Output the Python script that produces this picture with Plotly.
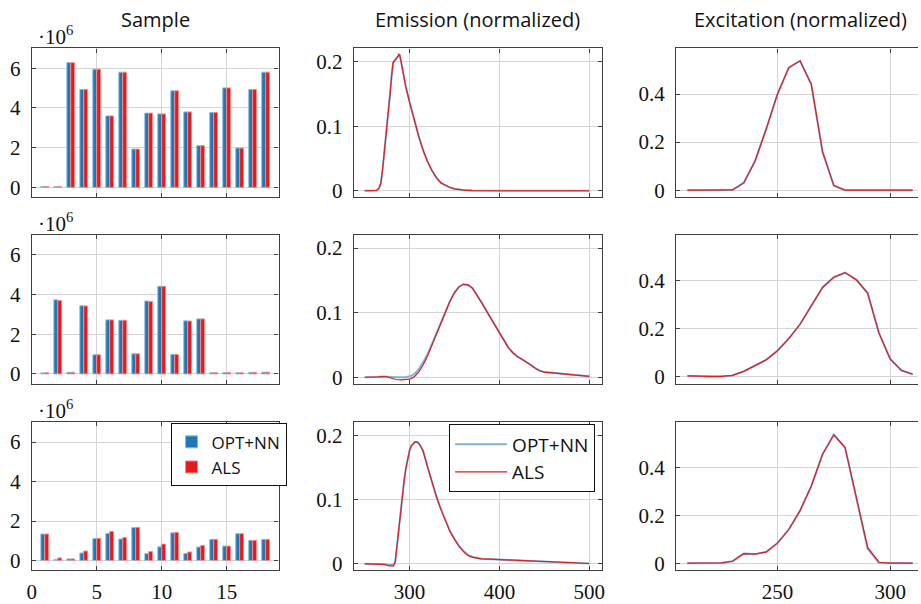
import plotly.graph_objects as go

# ---------------- data ----------------
samples = list(range(1, 19))

# sample scores (component 1..3), two decomposition methods
opt_nn_c1 = [0.05, 0.05, 6.28, 4.93, 5.95, 3.60, 5.80, 1.93, 3.74, 3.70, 4.86, 3.80, 2.10, 3.77, 5.01, 1.98, 4.93, 5.80]
als_c1    = [0.05, 0.05, 6.28, 4.93, 5.95, 3.60, 5.80, 1.93, 3.74, 3.70, 4.86, 3.80, 2.10, 3.77, 5.01, 1.98, 4.93, 5.80]
opt_nn_c2 = [0.05, 3.73, 0.08, 3.43, 0.96, 2.72, 2.70, 1.01, 3.67, 4.41, 0.98, 2.67, 2.77, 0.06, 0.07, 0.06, 0.08, 0.09]
als_c2    = [0.06, 3.70, 0.08, 3.42, 0.96, 2.72, 2.70, 1.01, 3.65, 4.41, 0.98, 2.66, 2.77, 0.06, 0.07, 0.06, 0.08, 0.09]
opt_nn_c3 = [1.34, 0.05, 0.08, 0.38, 1.11, 1.37, 1.09, 1.67, 0.35, 0.69, 1.40, 0.35, 0.68, 1.07, 0.73, 1.36, 1.02, 1.07]
als_c3    = [1.34, 0.13, 0.08, 0.48, 1.12, 1.47, 1.16, 1.68, 0.45, 0.83, 1.42, 0.43, 0.76, 1.07, 0.73, 1.36, 1.02, 1.07]
SCALE = 1e6

# emission spectra (normalized)
em1_wl = [250, 255, 260, 263, 266, 268, 270, 272, 274, 276, 278, 280, 281.5, 283, 285, 287, 288, 289,
          290.5, 293, 295.6, 300, 305, 310, 315, 320, 325, 330, 335, 340, 345, 350, 360, 370, 380, 400, 450, 500]
em1_opt = [0, 0, 0, 0.0005, 0.004, 0.012, 0.034, 0.060, 0.085, 0.115, 0.147, 0.178, 0.198, 0.201, 0.204, 0.208,
           0.211, 0.210, 0.200, 0.182, 0.162, 0.137, 0.110, 0.085, 0.063, 0.045, 0.031, 0.020, 0.012, 0.008,
           0.005, 0.003, 0.001, 0.0003, 0, 0, 0, 0]
em1_als = list(em1_opt)

em2_wl = [250, 260, 265, 270, 275, 280, 285, 290, 295, 300, 303, 306, 310, 315, 320, 325, 330, 335, 340,
          345, 350, 355, 360, 365, 370, 375, 380, 385, 390, 395, 400, 405, 410, 415, 420, 425, 430, 435,
          440, 445, 450, 460, 470, 480, 490, 500]
em2_als = [0, 0, 0.0005, 0.0012, 0.0005, -0.0015, -0.0035, -0.004, -0.004, -0.003, -0.001, 0.002, 0.008,
           0.019, 0.033, 0.050, 0.068, 0.085, 0.102, 0.118, 0.131, 0.140, 0.144, 0.143, 0.138, 0.128, 0.116,
           0.104, 0.092, 0.080, 0.068, 0.057, 0.046, 0.038, 0.032, 0.028, 0.024, 0.019, 0.014, 0.010, 0.008,
           0.0065, 0.005, 0.0035, 0.0025, 0.0015]
em2_opt = [0, 0, 0.0005, 0.0012, 0.0005, 0.0003, 0, 0, 0, 0.0015, 0.003, 0.006, 0.012, 0.023, 0.036, 0.052,
           0.068, 0.085, 0.102, 0.118, 0.131, 0.140, 0.144, 0.143, 0.138, 0.128, 0.116, 0.104, 0.092, 0.080,
           0.068, 0.057, 0.046, 0.038, 0.032, 0.028, 0.024, 0.019, 0.014, 0.010, 0.008, 0.0065, 0.005, 0.0035,
           0.0025, 0.0015]

em3_wl = [250, 260, 268, 272, 276, 279, 282, 284, 286, 288, 290, 292, 294, 296, 298, 300, 302, 304, 306,
          308, 310, 312, 315, 320, 325, 330, 335, 340, 345, 350, 355, 360, 365, 370, 375, 380, 390, 400,
          410, 420, 430, 440, 450, 460, 470, 480, 490, 500]
em3_als = [0, 0, 0, -0.001, -0.003, -0.0035, -0.0035, 0.003, 0.030, 0.058, 0.085, 0.110, 0.131, 0.150,
           0.166, 0.177, 0.184, 0.188, 0.190, 0.190, 0.188, 0.184, 0.176, 0.151, 0.126, 0.104, 0.084, 0.066,
           0.050, 0.038, 0.027, 0.019, 0.013, 0.010, 0.0085, 0.0078, 0.0072, 0.0066, 0.006, 0.0055, 0.0048,
           0.004, 0.003, 0.0022, 0.0016, 0.0012, 0.0008, 0.0005]
em3_opt = [0, 0, 0, -0.0008, -0.002, -0.002, -0.002, 0.003, 0.030, 0.058, 0.085, 0.110, 0.131, 0.150,
           0.166, 0.177, 0.184, 0.188, 0.190, 0.190, 0.188, 0.184, 0.176, 0.151, 0.126, 0.104, 0.085, 0.067,
           0.051, 0.039, 0.028, 0.020, 0.014, 0.011, 0.009, 0.008, 0.0072, 0.0066, 0.006, 0.0055, 0.0048,
           0.004, 0.003, 0.0022, 0.0016, 0.0012, 0.0008, 0.0005]

# excitation spectra (normalized)
ex_wl = [210, 215, 220, 225, 230, 235, 240, 245, 250, 255, 260, 265, 270, 275, 280, 285, 290, 295, 300, 305, 310]
ex1_opt = [0, 0, 0, 0, 0.001, 0.030, 0.120, 0.255, 0.400, 0.510, 0.538, 0.440, 0.159, 0.019, 0, 0, 0, 0, 0, 0, 0]
ex1_als = list(ex1_opt)
ex2_opt = [0.003, 0.001, 0.001, 0.001, 0.005, 0.022, 0.045, 0.070, 0.108, 0.158, 0.218, 0.293, 0.371, 0.414,
           0.433, 0.403, 0.348, 0.182, 0.074, 0.026, 0.010]
ex2_als = list(ex2_opt)
ex3_opt = [0, 0, 0, 0.001, 0.008, 0.040, 0.038, 0.047, 0.084, 0.141, 0.220, 0.323, 0.456, 0.538, 0.484,
           0.270, 0.060, 0.002, 0, 0, 0]
ex3_als = [0, 0, 0, 0.001, 0.008, 0.040, 0.038, 0.047, 0.084, 0.141, 0.220, 0.323, 0.456, 0.538, 0.484,
           0.275, 0.066, 0.004, 0, 0, 0]

col_titles = ["Sample", "Emission (normalized)", "Excitation (normalized)"]

# ---------------- styling ----------------
W, H = 921, 604
BLUE = "#1f77b4"
BLUE_EDGE = "#8fbbda"
RED = "#e41a1c"
RED_EDGE = "#f28c8d"
BLUE_LINE = "#7fb2d8"
FRAME = "#3f3f3f"
GRID = "#d4d4d4"
SERIF = "Liberation Serif"
SANS = "Open Sans"

col_px = [(27, 276), (352, 602), (677, 921)]
row_px = [(49, 200), (238, 389), (428, 578)]


def xdom(c):
    return [col_px[c][0] / W, col_px[c][1] / W]


def ydom(r):
    return [1 - row_px[r][1] / H, 1 - row_px[r][0] / H]


fig = go.Figure()

bars = [(opt_nn_c1, als_c1), (opt_nn_c2, als_c2), (opt_nn_c3, als_c3)]
emis = [(em1_wl, em1_opt, em1_als), (em2_wl, em2_opt, em2_als), (em3_wl, em3_opt, em3_als)]
excs = [(ex1_opt, ex1_als), (ex2_opt, ex2_als), (ex3_opt, ex3_als)]

axis_font = dict(family=SERIF, size=21, color="#111")

for r in range(3):
    last = r == 2
    # axis ids: left, middle, right column of this row
    ids = [3 * r + 1, 3 * r + 2, 3 * r + 3]
    names = ["" if i == 1 else str(i) for i in ids]

    # --- bar chart of scores ---
    o, a = bars[r]
    fig.add_trace(go.Bar(x=samples, y=[v * SCALE for v in o], name="OPT+NN",
                         marker=dict(color=BLUE, line=dict(color=BLUE_EDGE, width=1)),
                         xaxis="x" + names[0], yaxis="y" + names[0],
                         showlegend=last, legend="legend", offsetgroup="a"))
    fig.add_trace(go.Bar(x=samples, y=[v * SCALE for v in a], name="ALS",
                         marker=dict(color=RED, line=dict(color=RED_EDGE, width=1)),
                         xaxis="x" + names[0], yaxis="y" + names[0],
                         showlegend=last, legend="legend", offsetgroup="b"))

    # --- emission ---
    wl, o, a = emis[r]
    fig.add_trace(go.Scatter(x=wl, y=o, mode="lines", name="OPT+NN",
                             line=dict(color=BLUE_LINE, width=2),
                             xaxis="x" + names[1], yaxis="y" + names[1],
                             showlegend=last, legend="legend2"))
    fig.add_trace(go.Scatter(x=wl, y=a, mode="lines", name="ALS",
                             line=dict(color=RED, width=1.2),
                             xaxis="x" + names[1], yaxis="y" + names[1],
                             showlegend=last, legend="legend2"))

    # --- excitation ---
    o, a = excs[r]
    fig.add_trace(go.Scatter(x=ex_wl, y=o, mode="lines", name="OPT+NN",
                             line=dict(color=BLUE_LINE, width=2),
                             xaxis="x" + names[2], yaxis="y" + names[2], showlegend=False))
    fig.add_trace(go.Scatter(x=ex_wl, y=a, mode="lines", name="ALS",
                             line=dict(color=RED, width=1.2),
                             xaxis="x" + names[2], yaxis="y" + names[2], showlegend=False))

    common = dict(showline=True, linecolor=FRAME, linewidth=1.3, ticks="inside", ticklen=4,
                  tickcolor=FRAME, showgrid=True, gridcolor=GRID, gridwidth=1, zeroline=False,
                  tickfont=axis_font)

    xr = [[0, 19], [238, 514], [205, 205 + (921 - 677) / 250 * 110]]
    xt = [[0, 5, 10, 15], [300, 400, 500], [250, 300]]
    yr = [[-0.5 * SCALE, 7 * SCALE], [-0.0102, 0.2205], [-0.03, 0.59]]
    yt = [[0, 2 * SCALE, 4 * SCALE, 6 * SCALE], [0, 0.1, 0.2], [0, 0.2, 0.4]]
    ytt = [["0", "2", "4", "6"], ["0", "0.1", "0.2"], ["0", "0.2", "0.4"]]

    for c in range(3):
        xa = "xaxis" + names[c]
        ya = "yaxis" + names[c]
        fig.layout[xa] = dict(common, domain=xdom(c), anchor="y" + names[c], range=xr[c],
                              tickvals=xt[c], showticklabels=last, mirror="ticks",
                              ticklabelstandoff=2)
        fig.layout[ya] = dict(common, domain=ydom(r), anchor="x" + names[c], range=yr[c],
                              tickvals=yt[c], ticktext=ytt[c], ticklabelstandoff=6,
                              mirror=("ticks" if c < 2 else False))

    # exponent label of the score axis
    fig.add_annotation(text="·10<sup>6</sup>", xref="paper", yref="paper",
                       x=31 / W, y=1 - row_px[r][0] / H, xanchor="left", yanchor="bottom",
                       yshift=-3, showarrow=False, font=dict(family=SERIF, size=21, color="#111"))

for c in range(3):
    fig.add_annotation(text=col_titles[c], xref="paper", yref="paper",
                       x=(col_px[c][0] + 250 / 2) / W, y=1 - 20 / H, xanchor="center", yanchor="middle",
                       showarrow=False, font=dict(family=SANS, size=20, color="#111"))

fig.update_layout(
    width=W, height=H, margin=dict(l=0, r=0, t=0, b=0),
    paper_bgcolor="white", plot_bgcolor="white",
    barmode="group", bargap=0.4, bargroupgap=0,
    legend=dict(x=167 / W, y=1 - 429 / H, xanchor="left", yanchor="top",
                bgcolor="white", bordercolor="#111", borderwidth=1,
                font=dict(family=SANS, size=17, color="#111"), itemwidth=30,
                tracegroupgap=0),
    legend2=dict(x=448 / W, y=1 - 430 / H, xanchor="left", yanchor="top",
                 bgcolor="white", bordercolor="#111", borderwidth=1,
                 font=dict(family=SANS, size=19, color="#111"), itemwidth=52),
)

fig.write_html("out.html")
